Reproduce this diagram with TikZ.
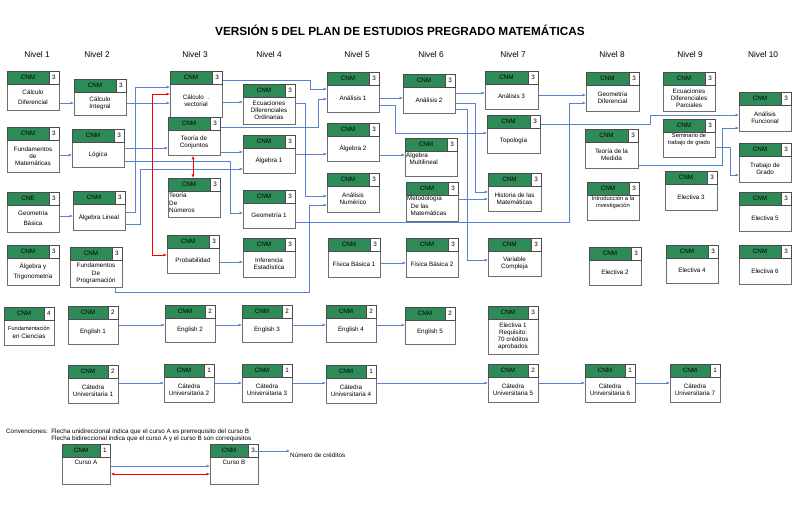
\documentclass[tikz,border=0pt]{standalone}
\usepackage{fontspec}
\setmainfont{Liberation Sans}
\usetikzlibrary{arrows.meta}
\definecolor{hgreen}{RGB}{46,139,87}
\definecolor{lblue}{RGB}{90,130,210}
\definecolor{bgray}{RGB}{110,110,110}
\tikzset{
 boxst/.style={draw=bgray,line width=0.8pt,fill=white,inner sep=0pt},
 ar/.style={draw=lblue,line width=0.6pt,-{Latex[length=3.5pt,width=3pt]}},
 rar/.style={draw=red,line width=0.8pt,{Latex[length=3.5pt,width=3pt]}-{Latex[length=3.5pt,width=3pt]}},
 txt/.style={font=\fontsize{6.3}{7.2}\selectfont,align=center,inner sep=0pt},
 lvl/.style={font=\fontsize{8.3}{10}\selectfont},
}
\newcommand\crs[8]{%
 \node[boxst,minimum width=#4pt,minimum height=#5pt,anchor=north west] (#1) at (#2,#3) {};
 \draw[draw=black!70,fill=hgreen,line width=0.5pt] (#2,#3) rectangle ({#2+#4-10},{#3+13});
 \draw[draw=black!70,fill=white,line width=0.5pt] ({#2+#4-10},#3) rectangle ({#2+#4},{#3+13});
 \node[txt] (#1h) at ({#2+(#4-10)/2},{#3+6.5}) {#6};
 \node[txt] (#1c) at ({#2+#4-5},{#3+6.5}) {#7};
 \node[txt] (#1t) at ({#2+#4/2},{#3+13+(#5-13)/2}) {#8};
}
\begin{document}
\begin{tikzpicture}[x=1pt,y=-1pt]
\useasboundingbox[fill=white] (0,0) rectangle (800,513);
\node[font=\bfseries\fontsize{11.8}{13}\selectfont] (title) at (400,30) {VERSIÓN 5 DEL PLAN DE ESTUDIOS PREGRADO MATEMÁTICAS};
\foreach \n/\x in {1/37,2/97,3/195,4/269,5/357,6/431,7/513,8/612,9/690,10/763}
 \node[lvl] (nivel\n) at (\x,55) {Nivel \n};
% level 1
\crs{cd}{7}{71}{52}{39}{CNM}{3}{Cálculo\\[3pt]Diferencial}
\crs{fm}{7}{127}{52}{45}{CNM}{3}{Fundamentos\\de\\Matemáticas}
\crs{gb}{7}{192}{52}{40}{CNE}{3}{Geometría\\[3pt]Básica}
\crs{at}{7}{245}{52}{40}{CNM}{3}{Álgebra y\\[2pt]Trigonometría}
\crs{fc}{4}{307}{50}{38}{CNM}{4}{\fontsize{5.6}{6.6}\selectfont Fundamentación\\en Ciencias}
% level 2
\crs{ci}{74}{79}{52}{36}{CNM}{3}{Cálculo\\Integral}
\crs{lo}{72}{129}{52}{38}{CNM}{3}{Lógica}
\crs{al}{73}{191}{52}{39}{CNM}{3}{Álgebra Lineal}
\crs{fp}{70}{247}{52}{40}{CNM}{3}{Fundamentos\\De\\Programación}
\crs{e1}{68}{306}{50}{38}{CNM}{2}{English 1}
\crs{cuA}{68}{365}{50}{38}{CNM}{2}{Cátedra\\Universitaria 1}
% level 3
\crs{cv}{170}{71}{52}{46}{CNM}{3}{Cálculo \ .\\vectorial}
\crs{tc}{168}{117}{52}{38}{CNM}{3}{Teoría de\\Conjuntos}
\crs{tn}{168}{178}{52}{39}{CNM}{3}{}
\node[txt,align=left,anchor=north west] (tntx) at (169,193) {Teoría\\De\\Números};
\crs{pr}{167}{235}{52}{38}{CNM}{3}{Probabilidad}
\crs{e2}{165}{305}{50}{37}{CNM}{2}{English 2}
\crs{cuB}{164}{364}{50}{38}{CNM}{1}{Cátedra\\Universitaria 2}
% level 4
\crs{edo}{243}{84}{52}{40}{CNM}{3}{Ecuaciones\\Diferenciales\\Ordinarias}
\crs{aa}{243}{135}{52}{38}{CNM}{3}{Álgebra 1}
\crs{ga}{243}{190}{52}{38}{CNM}{3}{Geometría 1}
\crs{ie}{243}{238}{52}{39}{CNM}{3}{Inferencia\\Estadística}
\crs{e3}{242}{305}{50}{37}{CNM}{2}{English 3}
\crs{cuC}{242}{364}{50}{38}{CNM}{1}{Cátedra\\Universitaria 3}
% level 5
\crs{ana}{327}{72}{52}{40}{CNM}{3}{Análisis 1}
\crs{ab}{327}{123}{52}{38}{CNM}{3}{Álgebra 2}
\crs{anum}{327}{173}{52}{39}{CNM}{3}{Análisis\\Numérico}
\crs{fba}{328}{238}{52}{39}{CNM}{3}{Física Básica 1}
\crs{e4}{326}{305}{50}{37}{CNM}{2}{English 4}
\crs{cuD}{326}{365}{50}{38}{CNM}{1}{Cátedra\\Universitaria 4}
% level 6
\crs{anb}{403}{74}{52}{39}{CNM}{3}{Análisis 2}
\crs{am}{405}{138}{52}{38}{CNM}{3}{}
\node[txt,align=left,anchor=north west] (amtx) at (406,152) {Álgebra\\\ \ Multilineal};
\crs{mm}{406}{182}{52}{39}{CNM}{3}{}
\node[txt,align=left,anchor=north west] (mmtx) at (407,196) {Metodología\\\ \ De las\\\ \ Matemáticas};
\crs{fbb}{406}{238}{52}{39}{CNM}{3}{Física Básica 2}
\crs{e5}{405}{307}{50}{37}{CNM}{2}{English 5}
% level 7
\crs{anc}{485}{71}{53}{38}{CNM}{3}{Análisis 3}
\crs{top}{487}{115}{53}{38}{CNM}{3}{Topología}
\crs{hm}{488}{173}{53}{38}{CNM}{3}{Historia de las\\Matemáticas}
\crs{vc}{488}{238}{53}{38}{CNM}{3}{Variable\\Compleja}
\crs{ela}{488}{306}{50}{48}{CNM}{3}{Electiva 1\\Requisito:\\70 créditos\\aprobados}
\crs{cuE}{488}{364}{50}{38}{CNM}{2}{Cátedra\\Universitaria 5}
% level 8
\crs{gd}{586}{72}{53}{39}{CNM}{3}{Geometría\\Diferencial}
\crs{tm}{585}{129}{53}{39}{CNM}{3}{Teoría de la\\Medida}
\crs{ii}{587}{182}{52}{38}{CNM}{3}{}
\node[txt,anchor=north,font=\fontsize{5.8}{6.8}\selectfont] (iitx) at (613,196) {Introducción a la\\investigación};
\crs{elb}{589}{247}{52}{38}{CNM}{3}{Electiva 2}
\crs{cuF}{585}{364}{50}{38}{CNM}{1}{Cátedra\\Universitaria 6}
% level 9
\crs{edp}{663}{72}{52}{39}{CNM}{3}{Ecuaciones\\Diferenciales\\Parciales}
\crs{sem}{663}{119}{52}{38}{CNM}{3}{}
\node[txt,anchor=north,font=\fontsize{5.8}{6.8}\selectfont] (semtx) at (689,133) {Seminario de\\trabajo de grado};
\crs{elc}{665}{171}{52}{39}{CNM}{3}{Electiva 3}
\crs{eld}{666}{245}{52}{38}{CNM}{3}{Electiva 4}
\crs{cuG}{670}{364}{50}{38}{CNM}{1}{Cátedra\\Universitaria 7}
% level 10
\crs{af}{739}{92}{52}{39}{CNM}{3}{Análisis\\Funcional}
\crs{tg}{739}{143}{52}{39}{CNM}{3}{Trabajo de\\Grado}
\crs{ele}{739}{192}{52}{39}{CNM}{3}{Electiva 5}
\crs{elf}{739}{245}{52}{39}{CNM}{3}{Electiva 6}
% connectors
\draw[ar] (cd.east |- 0,103) -- (ci.west |- 0,103);
\draw[ar] (ci.east |- 0,103) -- (cv.west |- 0,103);
\draw[ar] (al.east |- 0,212) -| (135,87) -- (cv.west |- 0,87);
\draw[ar] (al.east |- 0,224) -| (140,169) -- (aa.west |- 0,169);
\draw[ar] (fm.east |- 0,155) -- (lo.west |- 0,155);
\draw[ar] (lo.east |- 0,148) -- (tc.west |- 0,148);
\draw[ar] (lo.east |- 0,161) -| (230,213) -- (ga.west |- 0,213);
\draw[ar] (gb.east |- 0,216) -- (al.west |- 0,216);
\draw[ar] (cv.east |- 0,102) -- (edo.west |- 0,102);
\draw[ar] (cv.east |- 0,80) -| (310,89) -- (ana.west |- 0,89);
\draw[ar] (tc.east |- 0,127) -| (318,99) -- (ana.west |- 0,99);
\draw[ar] (tc.east |- 0,152) -- (aa.west |- 0,152);
\draw[ar] (edo.east |- 0,103) -| (305,196) -- (anum.west |- 0,196);
\draw[ar] (aa.east |- 0,154) -- (ab.west |- 0,154);
\draw[ar] (ga.east |- 0,222) -| (569,103) -- (gd.west |- 0,103);
\draw[ar] (fp.south -| 115,0) -- (115,292) -| (309,205) -- (anum.west |- 0,205);
\draw[ar] (pr.east |- 0,262) -- (ie.west |- 0,262);
\draw[rar] (tc.south -| 193,0) -- (tn.north -| 193,0);
\draw[rar] (cv.west |- 0,94) -| (152,255) -- (pr.west |- 0,255);
\draw[ar] (ana.east |- 0,98) -- (anb.west |- 0,98);
\draw[ar] (ana.east |- 0,105) -| (395,133) -- (top.west |- 0,133);
\draw[ar] (anb.east |- 0,93) -- (anc.west |- 0,93);
\draw[ar] (anb.east |- 0,103) -| (475,192) -- (hm.west |- 0,192);
\draw[ar] (anb.east |- 0,109) -| (467,260) -- (vc.west |- 0,260);
\draw[ar] (ab.east |- 0,155) -- (am.west |- 0,155);
\draw[ar] (mm.east |- 0,199) -- (hm.west |- 0,199);
\draw[ar] (fba.east |- 0,263) -- (fbb.west |- 0,263);
\draw[ar] (anc.east |- 0,95) -- (gd.west |- 0,95);
\draw[ar] (top.east |- 0,124) -| (650,115) -- (af.west |- 0,115);
\draw[ar] (tm.east |- 0,165) -| (722,128) -- (af.west |- 0,128);
\draw[ar] (sem.east |- 0,147) -| (730,175) -- (tg.west |- 0,175);
\draw[ar] (e1.east |- 0,325) -- (e2.west |- 0,325);
\draw[ar] (e2.east |- 0,325) -- (e3.west |- 0,325);
\draw[ar] (e3.east |- 0,325) -- (e4.west |- 0,325);
\draw[ar] (e4.east |- 0,325) -- (e5.west |- 0,325);
\draw[ar] (cuA.east |- 0,383) -- (cuB.west |- 0,383);
\draw[ar] (cuB.east |- 0,383) -- (cuC.west |- 0,383);
\draw[ar] (cuC.east |- 0,383) -- (cuD.west |- 0,383);
\draw[ar] (cuD.east |- 0,383) -- (cuE.west |- 0,383);
\draw[ar] (cuE.east |- 0,383) -- (cuF.west |- 0,383);
\draw[ar] (cuF.east |- 0,383) -- (cuG.west |- 0,383);
% legend
\node[txt,anchor=west,align=left] (conv) at (6,435) {Convenciones:\ \ Flecha unidireccional indica que el curso A es prerrequisito del curso B\\\phantom{Convenciones:\ \ }Flecha bidireccional indica que el curso A y el curso B son correquisitos};
\crs{ca}{62}{444}{48}{40}{CNM}{1}{}
\node[txt] (catx) at (86,462) {Curso A};
\crs{cb}{210}{444}{48}{40}{CNM}{3}{}
\node[txt] (cbtx) at (234,462) {Curso B};
\draw[ar] (ca.east |- 0,466) -- (cb.west |- 0,466);
\draw[rar] (ca.east |- 0,474) -- (cb.west |- 0,474);
\node[txt,anchor=west] (ncr) at (290,455) {Número de créditos};
\draw[ar] (cbc.east |- 0,451) -- (ncr.west |- 0,451);
\end{tikzpicture}
\end{document}
